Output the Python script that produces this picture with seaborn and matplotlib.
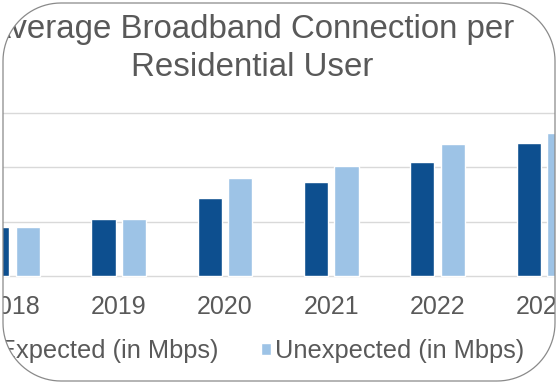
import numpy as np
import pandas as pd
import matplotlib
matplotlib.use("Agg")
import matplotlib.pyplot as plt
import seaborn as sns
from matplotlib.path import Path
from matplotlib.patches import PathPatch

# Data
years = ["2018", "2019", "2020", "2021", "2022", "2023"]
series_names = ["Expected (in Mbps)", "Unexpected (in Mbps)"]
expected = [45, 52, 72, 87, 105, 123]
unexpected = [45, 52, 90, 101, 122, 132]
title_lines = ["Average Broadband Connection per", "Residential User"]
series_colors = ["#0D4F8F", "#9DC3E6"]

TEXT_GRAY = "#595959"
W, H = 558, 384

sns.set_theme(style="white")
plt.rcParams["font.family"] = ["Liberation Sans", "DejaVu Sans"]

fig = plt.figure(figsize=(W / 100, H / 100), dpi=100)
fig.patch.set_facecolor("white")

# Plot area (pixel geometry converted to figure fractions)
ax_left, ax_right = 3, 555
ax_top, ax_bottom = 111.1, 277.9
ax = fig.add_axes([ax_left / W, 1 - ax_bottom / H,
                   (ax_right - ax_left) / W, (ax_bottom - ax_top) / H])

df = pd.DataFrame({
    "Year": years * 2,
    "Series": [series_names[0]] * len(years) + [series_names[1]] * len(years),
    "Mbps": expected + unexpected,
})

sns.barplot(data=df, x="Year", y="Mbps", hue="Series", hue_order=series_names,
            palette=series_colors, saturation=1, width=0.572, gap=0.21,
            ax=ax)

ax.set_xlim(-0.0884, 5.1044)
ax.set_ylim(-2, 152)
ax.set_yticks([0, 50, 100, 150])
ax.yaxis.grid(True, color="#d9d9d9", linewidth=1.0)
ax.set_axisbelow(True)
ax.tick_params(axis="x", length=0, pad=12, labelsize=18, labelcolor=TEXT_GRAY)
ax.tick_params(axis="y", length=0, labelleft=False)
for s in ax.spines.values():
    s.set_visible(False)
ax.set_xlabel("")
ax.set_ylabel("")
ax.set_facecolor("white")

handles, labels = ax.get_legend_handles_labels()
ax.get_legend().remove()
fig.legend(handles, labels, loc="center", bbox_to_anchor=(255 / W, 1 - 351 / H),
           ncol=2, frameon=False, fontsize=18.3, handlelength=0.39,
           handleheight=0.39, handletextpad=0.155, columnspacing=1.67,
           borderpad=0, labelcolor=TEXT_GRAY)

# Title
fig.text(252 / W, 1 - 38 / H, title_lines[0], ha="center", va="baseline",
         fontsize=23.8, color=TEXT_GRAY)
fig.text(252 / W, 1 - 76 / H, title_lines[1], ha="center", va="baseline",
         fontsize=23.8, color=TEXT_GRAY)


# Rounded frame around the chart, with everything outside it masked white
def rounded_rect(left, bottom, right, top, r, n=24):
    pts = []
    arcs = [((right - r, bottom + r), -90, 0),
            ((right - r, top - r), 0, 90),
            ((left + r, top - r), 90, 180),
            ((left + r, bottom + r), 180, 270)]
    for (cx, cy), a0, a1 in arcs:
        for a in np.linspace(np.radians(a0), np.radians(a1), n):
            pts.append((cx + r * np.cos(a), cy + r * np.sin(a)))
    pts.append(pts[0])
    return np.array(pts)


frame = rounded_rect(3, H - 381, 555, H - 3, 58)
frame_frac = frame / np.array([W, H])
outer = np.array([(0, 0), (0, 1), (1, 1), (1, 0), (0, 0)])

verts = np.vstack([outer, frame_frac])
codes = ([Path.MOVETO] + [Path.LINETO] * 3 + [Path.CLOSEPOLY] +
         [Path.MOVETO] + [Path.LINETO] * (len(frame_frac) - 2) + [Path.CLOSEPOLY])
mask = PathPatch(Path(verts, codes), facecolor="white", edgecolor="none",
                 transform=fig.transFigure, zorder=20)
fig.patches.append(mask)

border = PathPatch(Path(frame_frac), facecolor="none", edgecolor="#8a8a8a",
                   linewidth=0.9, transform=fig.transFigure, zorder=21)
fig.patches.append(border)

fig.savefig("out.png", dpi=100, facecolor="white")
